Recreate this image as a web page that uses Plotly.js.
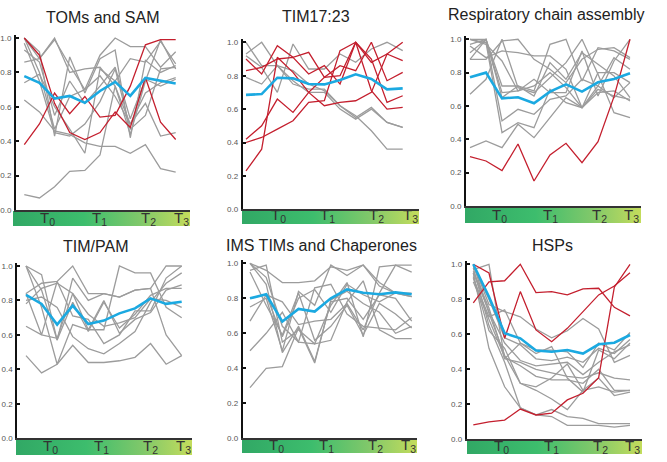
<!DOCTYPE html>
<html>
<head>
<meta charset="utf-8">
<script src="https://cdn.plot.ly/plotly-3.0.1.min.js"></script>
<style>html,body{margin:0;padding:0;background:#fff}#chart{width:667px;height:462px}</style>
</head>
<body>
<div id="chart"></div>
<script>
// ---------- DATA ----------
const timepoints = [0,1,2,3,4,5,6,7,8,9,10];
const panelTitles = ["TOMs and SAM","TIM17:23","Respiratory chain assembly","TIM/PAM","IMS TIMs and Chaperones","HSPs"];
const phaseLabels = ["T<sub>0</sub>","T<sub>1</sub>","T<sub>2</sub>","T<sub>3</sub>"];
const yTickVals = [0,0.2,0.4,0.6,0.8,1.0];
const yTickText = ["0.0","0.2","0.4","0.6","0.8","1.0"];

// TOMs and SAM
const tomsGray = [
  [0.09,0.07,0.135,0.225,0.23,0.32,0.72,0.50,0.62,0.43,0.45],
  [0.64,0.57,0.46,0.44,0.39,0.37,0.37,0.33,0.38,0.24,0.22],
  [1.0,0.92,0.43,0.89,0.68,0.88,0.93,0.42,0.87,0.80,0.84],
  [1.0,0.88,1.0,0.80,0.82,0.83,0.72,0.44,0.75,0.99,0.82],
  [0.93,0.86,0.55,0.75,0.62,0.72,0.83,0.53,0.76,0.72,0.76],
  [0.86,0.88,0.99,0.84,0.70,0.90,1.0,0.95,0.95,0.83,0.92],
  [0.74,0.79,0.60,0.47,0.33,0.82,0.75,0.88,0.86,0.98,0.85],
  [1.0,0.80,0.47,0.66,0.70,0.78,0.66,0.50,0.68,0.74,0.77],
  [0.97,0.75,0.45,0.43,0.50,0.63,0.82,0.47,0.55,0.82,0.83]
];
const tomsRed = [
  [0.38,0.50,0.68,0.56,0.66,0.54,0.55,0.72,0.96,0.99,0.99],
  [1.0,0.90,0.62,0.45,0.41,0.45,0.57,0.48,0.77,0.51,0.41]
];
const tomsMean = [0.778,0.739,0.648,0.663,0.623,0.692,0.745,0.663,0.768,0.75,0.735];

// TIM17:23
const tim1723Gray = [
  [1.0,0.86,0.86,0.83,0.75,0.71,0.62,0.55,0.61,0.52,0.49],
  [0.93,1.0,0.86,0.75,0.72,0.72,0.62,0.56,0.47,0.36,0.36],
  [0.92,0.85,0.70,0.99,0.84,0.84,0.93,0.88,0.96,1.0,0.95],
  [0.79,0.75,0.86,0.77,0.70,0.70,0.60,0.54,0.60,0.52,0.49]
];
const tim1723Red = [
  [0.23,0.36,0.91,0.82,0.70,0.62,0.64,0.65,0.70,0.93,0.89],
  [0.42,0.50,0.66,0.58,0.70,0.79,0.80,1.0,0.71,0.60,0.61],
  [0.40,0.43,0.48,0.53,0.64,0.65,0.95,1.0,0.88,0.93,1.0],
  [0.90,0.81,0.98,0.91,0.94,0.79,0.86,0.83,1.0,0.77,0.82],
  [0.83,0.85,0.90,0.91,0.81,0.86,0.75,1.0,0.90,0.64,0.68]
];
const tim1723Mean = [0.685,0.69,0.788,0.784,0.75,0.748,0.774,0.808,0.78,0.718,0.724];

// Respiratory chain assembly
const respGray = [
  [0.35,0.39,0.35,0.49,0.41,0.53,0.65,0.59,0.70,0.66,0.64],
  [0.67,0.76,1.0,0.71,0.68,0.77,0.86,1.0,0.79,0.56,0.53],
  [1.0,0.98,0.44,0.50,0.47,0.70,0.62,0.59,0.68,0.69,0.63],
  [0.97,1.0,0.51,0.58,0.55,0.64,0.66,0.76,0.72,0.89,0.82],
  [0.92,1.0,0.65,0.72,0.69,0.97,1.0,0.75,0.95,0.93,0.88],
  [0.88,0.88,0.99,1.0,0.88,0.82,0.74,0.88,0.94,0.95,0.89],
  [1.0,1.0,0.68,0.69,0.76,0.68,0.68,0.93,0.66,0.87,1.0],
  [0.96,0.89,0.93,0.92,0.90,0.90,0.82,0.59,0.80,0.80,0.74],
  [0.88,1.0,0.72,0.72,0.66,0.86,0.76,0.92,0.85,0.78,0.65],
  [1.0,0.97,0.87,0.69,0.72,0.80,0.71,0.59,0.72,0.65,0.74]
];
const respRed = [
  [0.296,0.27,0.212,0.372,0.15,0.306,0.376,0.26,0.386,0.656,1.0]
];
const respMean = [0.772,0.80,0.646,0.652,0.616,0.686,0.73,0.686,0.742,0.762,0.796];

// TIM/PAM
const timpamGray = [
  [0.48,0.38,0.43,0.54,0.44,0.44,0.45,0.47,0.55,0.43,0.48],
  [0.65,0.60,0.58,0.84,0.63,0.80,0.61,0.69,0.73,0.86,0.89],
  [1.0,0.95,0.57,0.93,0.80,0.84,0.82,0.86,0.87,0.60,0.48],
  [0.84,0.90,0.91,1.0,0.84,0.84,0.82,0.86,0.87,1.0,1.0],
  [0.78,0.87,0.90,0.84,0.72,0.65,0.67,0.70,0.81,0.80,0.76],
  [1.0,0.76,0.43,0.66,0.63,0.63,1.0,0.96,0.96,0.76,0.70],
  [0.84,0.60,0.91,0.71,0.69,0.55,0.60,0.74,0.74,0.93,1.0],
  [0.80,0.82,0.76,0.59,0.52,0.49,0.55,0.62,0.79,0.90,0.96],
  [1.0,0.86,0.57,0.79,0.62,0.79,0.64,0.72,0.83,0.87,0.87]
];
const timpamRed = [];
const timpamMean = [0.832,0.78,0.66,0.77,0.663,0.683,0.725,0.754,0.812,0.78,0.793];

// IMS TIMs and Chaperones
const imsGray = [
  [0.29,0.40,0.41,0.63,0.43,0.79,0.84,0.77,0.72,0.60,0.64],
  [0.50,0.60,0.72,0.55,0.54,0.56,0.78,0.90,0.62,0.57,0.57],
  [1.0,0.96,0.89,0.89,0.90,0.98,0.96,0.99,0.89,0.83,0.83],
  [0.96,0.99,0.55,0.62,0.54,0.76,0.89,0.58,0.98,0.99,0.99],
  [0.67,0.82,0.58,0.80,0.85,0.72,0.88,0.82,0.78,0.83,0.81],
  [0.75,0.80,0.50,0.84,0.76,0.99,0.93,0.99,0.87,0.83,0.81],
  [1.0,0.92,0.64,0.55,0.86,0.88,0.71,0.64,0.63,0.62,0.69],
  [0.80,0.82,0.78,0.65,0.67,0.68,0.77,0.62,0.83,0.99,0.95],
  [1.0,0.88,0.49,0.64,0.44,0.78,0.80,0.68,0.82,0.80,0.67],
  [0.95,0.76,0.59,0.83,0.56,0.64,0.76,0.59,0.77,0.71,0.63]
];
const imsRed = [];
const imsMean = [0.80,0.823,0.667,0.739,0.724,0.80,0.851,0.832,0.823,0.834,0.823];

// HSPs
const hspGray = [
  [1.0,0.72,0.48,0.32,0.30,0.35,0.43,0.28,0.35,0.25,0.27],
  [0.98,0.65,0.44,0.18,0.14,0.13,0.08,0.08,0.08,0.07,0.08],
  [0.95,0.52,0.30,0.18,0.14,0.17,0.13,0.12,0.09,0.09,0.09],
  [1.0,0.77,0.73,0.70,0.63,0.58,0.62,0.69,0.63,0.44,0.48],
  [0.93,0.62,0.52,0.32,0.28,0.23,0.17,0.28,0.30,0.27,0.28],
  [0.97,1.0,0.46,0.55,0.49,0.53,0.35,0.27,0.51,0.46,0.55],
  [0.92,0.70,0.74,0.55,0.51,0.51,0.50,0.41,0.55,0.51,0.61],
  [0.96,0.75,0.46,0.44,0.40,0.38,0.36,0.35,0.38,0.35,0.34],
  [0.90,0.68,0.47,0.42,0.36,0.34,0.34,0.32,0.40,0.28,0.28],
  [0.99,0.80,0.58,0.54,0.46,0.45,0.47,0.44,0.52,0.49,0.57],
  [0.95,0.73,0.55,0.45,0.42,0.43,0.44,0.37,0.44,0.50,0.54]
];
const hspRed = [
  [0.78,0.90,0.906,1.0,0.838,0.844,0.825,0.86,0.863,0.754,0.705],
  [1.0,0.95,0.577,0.844,0.625,0.558,0.634,0.73,0.825,0.876,0.952],
  [0.082,0.10,0.11,0.173,0.139,0.149,0.225,0.263,0.352,0.869,1.0]
];
const hspMean = [1.0,0.815,0.606,0.577,0.507,0.50,0.51,0.49,0.543,0.552,0.596];

const panelGray = [tomsGray, tim1723Gray, respGray, timpamGray, imsGray, hspGray];
const panelRed = [tomsRed, tim1723Red, respRed, timpamRed, imsRed, hspRed];
const panelMean = [tomsMean, tim1723Mean, respMean, timpamMean, imsMean, hspMean];

// ---------- LAYOUT GEOMETRY (pixels) ----------
const W = 667, H = 462;
const geom = [
  {ax:16,   x0:24.3,  x10:175.7, right:190, y0:210,   y1:38,    bl:13,  bt:211, bb:226, tx:103,   ty:17,  lab:[48,99,148,182],        ly:219},
  {ax:242.7,x0:246,   x10:402.7, right:419, y0:209.3, y1:42.3,  bl:242, bt:210, bb:224, tx:315.8, ty:16,  lab:[278,327,376,410],       ly:217},
  {ax:466,  x0:470,   x10:630,   right:641, y0:206,   y1:39.3,  bl:465, bt:207, bb:223, tx:546.7, ty:15,  lab:[500,550.7,599,631.7],   ly:216},
  {ax:17.3, x0:26,    x10:181.7, right:192, y0:438.3, y1:266,   bl:16,  bt:439, bb:455, tx:96,    ty:246.7,lab:[50,101.7,150,183.3],  ly:447},
  {ax:242.7,x0:250,   x10:411.7, right:417, y0:438.3, y1:263.3, bl:242, bt:439, bb:453, tx:321.7, ty:245, lab:[276.7,326.7,375,408.3],ly:446.5},
  {ax:466.7,x0:473.3, x10:630,   right:642, y0:439.3, y1:264.3, bl:467, bt:440, bb:454, tx:552.3, ty:245, lab:[501.7,551.7,600,632.7],ly:447}
];

const gradSvg = '<svg xmlns="http://www.w3.org/2000/svg" width="200" height="20" preserveAspectRatio="none">' +
  '<defs><linearGradient id="g" x1="0" y1="0" x2="1" y2="0">' +
  '<stop offset="0" stop-color="#31a865"/><stop offset="0.4" stop-color="#3dbd6d"/>' +
  '<stop offset="0.72" stop-color="#80c86a"/><stop offset="1" stop-color="#c4dc5c"/>' +
  '</linearGradient></defs><rect width="200" height="20" fill="url(#g)"/></svg>';
const gradSrc = 'data:image/svg+xml;charset=utf-8,' + encodeURIComponent(gradSvg);

const traces = [];
const layout = {
  width: W, height: H,
  margin: {l:0, r:0, t:0, b:0},
  paper_bgcolor: '#fff', plot_bgcolor: 'rgba(0,0,0,0)',
  showlegend: false,
  font: {family: 'Liberation Sans, Arial, sans-serif'},
  annotations: [], images: []
};

const YTOP = 1.02;
geom.forEach((g, p) => {
  const n = p + 1;
  const xa = 'x' + (n === 1 ? '' : n), ya = 'y' + (n === 1 ? '' : n);
  const xk = 'xaxis' + (n === 1 ? '' : n), yk = 'yaxis' + (n === 1 ? '' : n);
  const dx = (g.x10 - g.x0) / 10;
  const ytopPx = g.y0 - YTOP * (g.y0 - g.y1);
  layout[xk] = {
    domain: [g.ax / W, g.right / W],
    range: [(g.ax - g.x0) / dx, (g.right - g.x0) / dx],
    showgrid: false, zeroline: false, showticklabels: false, ticks: '',
    showline: true, linecolor: '#333', linewidth: 2,
    anchor: ya, fixedrange: true
  };
  layout[yk] = {
    domain: [1 - g.y0 / H, 1 - ytopPx / H],
    range: [0, YTOP],
    showgrid: false, zeroline: false,
    tickvals: yTickVals, ticktext: yTickText,
    ticks: 'inside', ticklen: 3, tickwidth: 2, tickcolor: '#111',
    ticklabelstandoff: 1,
    tickfont: {size: 8, color: '#555', family: 'Liberation Sans, Arial, sans-serif'},
    showline: true, linecolor: '#111', linewidth: 2,
    anchor: xa, fixedrange: true
  };
  panelGray[p].forEach(v => traces.push({x: timepoints, y: v, xaxis: xa, yaxis: ya, type: 'scatter', mode: 'lines',
    line: {color: '#9c9c9c', width: 1.3}, hoverinfo: 'skip'}));
  panelRed[p].forEach(v => traces.push({x: timepoints, y: v, xaxis: xa, yaxis: ya, type: 'scatter', mode: 'lines',
    line: {color: '#c41f2e', width: 1.3}, hoverinfo: 'skip'}));
  traces.push({x: timepoints, y: panelMean[p], xaxis: xa, yaxis: ya, type: 'scatter', mode: 'lines',
    line: {color: '#1ba9e1', width: 2.6}, hoverinfo: 'skip'});

  layout.images.push({source: gradSrc, xref: 'paper', yref: 'paper', x: g.bl / W, y: 1 - g.bt / H,
    sizex: (g.right - g.bl) / W, sizey: (g.bb - g.bt) / H, sizing: 'stretch', xanchor: 'left', yanchor: 'top', layer: 'below'});

  layout.annotations.push({text: panelTitles[p], xref: 'paper', yref: 'paper', x: g.tx / W, y: 1 - g.ty / H,
    xanchor: 'center', yanchor: 'middle', showarrow: false,
    font: {size: 16, color: '#222', family: 'Liberation Sans, Arial, sans-serif'}});
  phaseLabels.forEach((t, i) => layout.annotations.push({text: t, xref: 'paper', yref: 'paper',
    x: g.lab[i] / W, y: 1 - (g.ly - 1) / H, xanchor: 'center', yanchor: 'middle', showarrow: false,
    font: {size: 15, color: '#333', family: 'Liberation Sans, Arial, sans-serif'}}));
});

Plotly.newPlot('chart', traces, layout, {displayModeBar: false, staticPlot: true});
</script>
</body>
</html>
